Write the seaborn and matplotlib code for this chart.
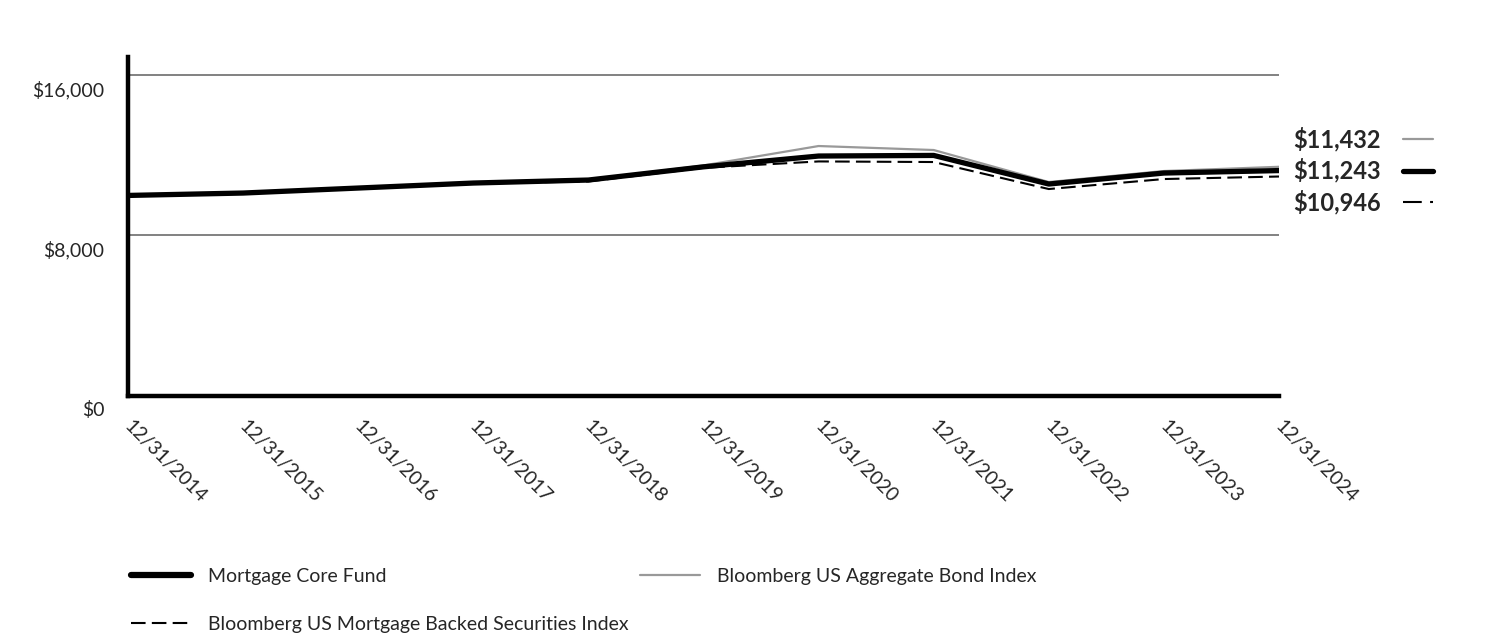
import matplotlib
matplotlib.use('Agg')
import matplotlib.pyplot as plt
import matplotlib.transforms as mtransforms
from matplotlib.lines import Line2D
import seaborn as sns

# data
dates = ['12/31/2014', '12/31/2015', '12/31/2016', '12/31/2017', '12/31/2018', '12/31/2019',
         '12/31/2020', '12/31/2021', '12/31/2022', '12/31/2023', '12/31/2024']
fund = [10000, 10120, 10370, 10620, 10770, 11430, 11970, 12000, 10570, 11120, 11243]
agg_index = [10000, 10120, 10370, 10620, 10770, 11500, 12470, 12270, 10670, 11220, 11432]
mbs_index = [10000, 10120, 10370, 10600, 10700, 11380, 11700, 11670, 10320, 10820, 10946]
end_labels = ['$11,432', '$11,243', '$10,946']
y_ticks = [0, 8000, 16000]
y_tick_labels = ['$0', '$8,000', '$16,000']

sns.set_style('white')
plt.rcParams['font.family'] = ['Lato', 'DejaVu Sans']

fig = plt.figure(figsize=(15.12, 6.36), dpi=100)
ax = fig.add_axes([128 / 1512, 1 - 395.5 / 636, (1279 - 128) / 1512, (395.5 - 57) / 636])

x = list(range(len(dates)))
sns.lineplot(x=x, y=agg_index, color='#999999', linewidth=1.6, ax=ax)
sns.lineplot(x=x, y=fund, color='black', linewidth=3.8, ax=ax)
sns.lineplot(x=x, y=mbs_index, color='black', linewidth=1.5, ax=ax)
ax.lines[-1].set_dashes((7, 3))

ax.set_xlim(0, len(dates) - 1)
ax.set_ylim(0, 16920)
ax.set_yticks(y_ticks)
ax.set_yticklabels(y_tick_labels, fontsize=14)
ax.set_xticks(x)
ax.set_xticklabels(dates, rotation=-45, ha='left', va='top', rotation_mode='anchor', fontsize=14)
ax.tick_params(axis='both', length=0)
ax.tick_params(axis='x', pad=16)
ax.tick_params(axis='y', pad=17)

# y labels sit a bit below their gridlines
y_off = mtransforms.ScaledTranslation(0, -0.13, fig.dpi_scale_trans)
for lbl in ax.get_yticklabels():
    lbl.set_transform(lbl.get_transform() + y_off)
x_off = mtransforms.ScaledTranslation(0.05, 0, fig.dpi_scale_trans)
for lbl in ax.get_xticklabels():
    lbl.set_transform(lbl.get_transform() + x_off)

for yv in [8000, 16000]:
    ax.axhline(yv, color='#777777', linewidth=1.3, zorder=0)

sns.despine(ax=ax)
for side in ['left', 'bottom']:
    ax.spines[side].set_linewidth(3.2)
    ax.spines[side].set_color('black')

# end value labels at the right
styles = [dict(color='#999999', lw=1.6), dict(color='black', lw=3.8), dict(color='black', lw=1.5, dashes=(9, 4, 3, 4))]
for i, (txt, st) in enumerate(zip(end_labels, styles)):
    ypix = 139 + i * 31.5
    fig.text(1381 / 1512, 1 - ypix / 636, txt, ha='right', va='center', fontsize=17, fontweight='bold')
    ln = Line2D([1403 / 1512, 1433 / 1512], [1 - ypix / 636] * 2, transform=fig.transFigure,
                color=st['color'], linewidth=st['lw'])
    if 'dashes' in st:
        ln.set_dashes(st['dashes'])
    fig.add_artist(ln)

handles = [Line2D([], [], color='black', linewidth=4.5),
           Line2D([], [], color='black', linewidth=1.5, dashes=(7, 3)),
           Line2D([], [], color='#999999', linewidth=1.6)]
labels = ['Mortgage Core Fund', 'Bloomberg US Mortgage Backed Securities Index',
          'Bloomberg US Aggregate Bond Index']
fig.legend(handles, labels, loc='upper left', bbox_to_anchor=(131 / 1512, 1 - 568 / 636), ncol=2,
           frameon=False, fontsize=14, handlelength=3.1, handletextpad=0.85, labelspacing=1.6,
           columnspacing=0.6, borderaxespad=0, borderpad=0)

plt.savefig('out.png', dpi=100)
